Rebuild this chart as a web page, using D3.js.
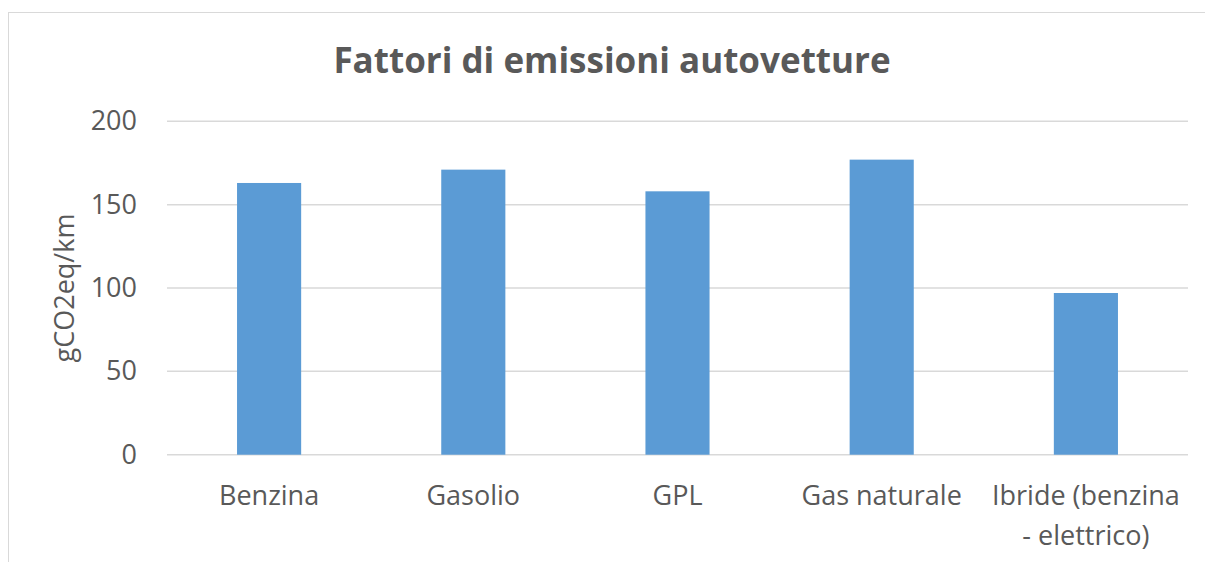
<!doctype html>
<html>
<head>
<meta charset="utf-8">
<style>
  body { margin: 0; background: #fff; }
  svg { font-family: "Open Sans", "Noto Sans", sans-serif; }
</style>
<script src="https://d3js.org/d3.v7.min.js"></script>
</head>
<body>
<svg width="1205" height="562"></svg>
<script>
  // data
  var categories = ["Benzina", "Gasolio", "GPL", "Gas naturale", "Ibride (benzina - elettrico)"];
  var labelLines = [["Benzina"], ["Gasolio"], ["GPL"], ["Gas naturale"], ["Ibride (benzina", "- elettrico)"]];
  var values = [163, 171, 158, 177, 97];
  var yTicks = [0, 50, 100, 150, 200];

  var svg = d3.select("svg");
  var textColor = "#595959";

  // outer chart border (clipped by the window on right/bottom)
  svg.append("rect")
     .attr("x", 8.5).attr("y", 12.5)
     .attr("width", 1210).attr("height", 560)
     .attr("fill", "none")
     .attr("stroke", "#d9d9d9");

  var plotLeft = 167, plotRight = 1188, plotTop = 121.3, plotBottom = 454.7;

  var x = d3.scaleBand().domain(categories).range([plotLeft, plotRight]);
  var y = d3.scaleLinear().domain([0, 200]).range([plotBottom, plotTop]);
  var barW = x.bandwidth() * 0.314;

  svg.append("text")
     .attr("x", 612).attr("y", 73)
     .attr("text-anchor", "middle")
     .attr("font-size", "35px")
     .attr("font-weight", "bold")
     .attr("fill", textColor)
     .text("Fattori di emissioni autovetture");

  // gridlines
  svg.append("g")
     .selectAll("line")
     .data(yTicks)
     .enter().append("line")
     .attr("x1", plotLeft).attr("x2", plotRight)
     .attr("y1", function(d) { return y(d); })
     .attr("y2", function(d) { return y(d); })
     .attr("stroke", "#d9d9d9")
     .attr("stroke-width", 1.5);

  // y axis labels
  var yAxis = svg.append("g")
     .attr("transform", "translate(" + (plotLeft - 15) + ",0)")
     .call(d3.axisLeft(y).tickValues(yTicks).tickSize(0).tickPadding(15));
  yAxis.select(".domain").remove();
  yAxis.selectAll("text")
     .attr("font-family", "'Open Sans', sans-serif")
     .attr("font-size", "27px")
     .attr("fill", textColor);

  svg.append("text")
     .attr("transform", "translate(74," + ((plotTop + plotBottom) / 2) + ") rotate(-90)")
     .attr("text-anchor", "middle")
     .attr("font-size", "27px")
     .attr("fill", textColor)
     .text("gCO2eq/km");

  // bars
  svg.append("g")
     .selectAll("rect")
     .data(values)
     .enter().append("rect")
     .attr("x", function(d, i) { return x(categories[i]) + (x.bandwidth() - barW) / 2; })
     .attr("y", function(d) { return y(d); })
     .attr("width", barW)
     .attr("height", function(d) { return y(0) - y(d); })
     .attr("fill", "#5b9bd5");

  // category labels
  var xl = svg.append("g");
  labelLines.forEach(function(lines, i) {
    var t = xl.append("text")
       .attr("x", x(categories[i]) + x.bandwidth() / 2)
       .attr("y", 505)
       .attr("text-anchor", "middle")
       .attr("font-size", "27px")
       .attr("fill", textColor);
    lines.forEach(function(s, j) {
      t.append("tspan")
       .attr("x", x(categories[i]) + x.bandwidth() / 2)
       .attr("dy", j === 0 ? 0 : 40)
       .text(s);
    });
  });
</script>
</body>
</html>
